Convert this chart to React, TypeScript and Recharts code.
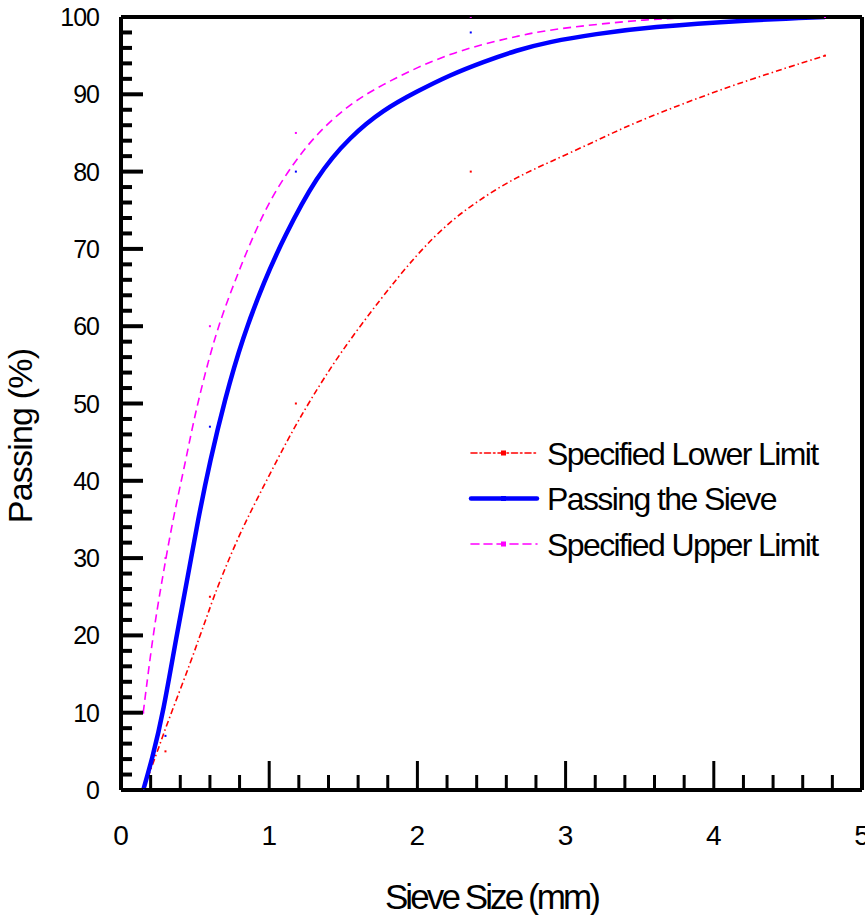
import {
  ComposedChart,
  Line,
  Scatter,
  XAxis,
  YAxis,
} from 'recharts';

// traced curves (sieve size in mm, percent passing)
const lowerX = [0.15, 0.24, 0.31, 0.39, 0.465, 0.53, 0.59, 0.645, 0.8, 0.96, 1.12, 1.275, 1.48, 1.75, 1.995, 2.22, 2.445, 2.67, 2.89, 3.23, 3.45, 3.86, 4.24, 4.75];
const lowerY = [0, 4.7, 8.5, 12.5, 16.3, 19.8, 23, 26, 33.2, 39.2, 45.2, 50.4, 56.6, 63.5, 69.3, 73.6, 76.7, 79.3, 81.2, 84.2, 86.2, 89.3, 91.9, 95];

const passX = [0.15, 0.21, 0.285, 0.375, 0.45, 0.52, 0.6, 0.7, 0.82, 0.97, 1.095, 1.32, 1.545, 1.77, 2.0, 2.22, 2.445, 2.67, 2.89, 3.2, 3.56, 4.24, 4.75];
const passY = [0, 4, 10, 20, 27.5, 35, 42.5, 50.5, 58.5, 66, 71.3, 79.5, 84.5, 88, 90.4, 92.5, 94.2, 95.7, 96.8, 97.8, 98.7, 99.6, 100];

const upperX = [0.15, 0.217, 0.28, 0.35, 0.43, 0.5, 0.59, 0.67, 0.77, 0.87, 1.0, 1.16, 1.32, 1.545, 1.77, 2.0, 2.22, 2.445, 2.67, 2.89, 3.57, 4.0, 4.75];
const upperY = [10, 20.3, 27.5, 35, 42, 48.7, 55.6, 60.8, 65.9, 70.7, 76.2, 81, 84.9, 88.8, 91.3, 93.5, 95.2, 96.5, 97.5, 98.4, 99.8, 100, 100];

// measured points at the sieve sizes
const sieveSizes = [0.15, 0.3, 0.6, 1.18, 2.36, 4.75];
const lowerPts = [0, 5, 25, 50, 80, 95];
const passPts = [0, 7, 47, 80, 98, 100];
const upperPts = [10, 30, 60, 85, 100, 100];

const xTicks = [0, 0.2, 0.4, 0.6, 0.8, 1, 1.2, 1.4, 1.6, 1.8, 2, 2.2, 2.4, 2.6, 2.8, 3, 3.2, 3.4, 3.6, 3.8, 4, 4.2, 4.4, 4.6, 4.8, 5];
const yTicks = [0, 2, 4, 6, 8, 10, 12, 14, 16, 18, 20, 22, 24, 26, 28, 30, 32, 34, 36, 38, 40, 42, 44, 46, 48, 50, 52, 54, 56, 58, 60, 62, 64, 66, 68, 70, 72, 74, 76, 78, 80, 82, 84, 86, 88, 90, 92, 94, 96, 98, 100];

const FONT = 'Liberation Sans, Arial, Helvetica, sans-serif';

const zip = (xs: number[], ys: number[]) => xs.map((x, i) => ({ x, y: ys[i] }));

const series = [
  { name: 'Specified Lower Limit', color: '#ff0000', width: 1.6, dash: '6 3 1.5 3', line: zip(lowerX, lowerY), pts: zip(sieveSizes, lowerPts) },
  { name: 'Passing the Sieve', color: '#0000ff', width: 4.5, dash: undefined, line: zip(passX, passY), pts: zip(sieveSizes, passPts) },
  { name: 'Specified Upper Limit', color: '#ff00ff', width: 1.6, dash: '8 5', line: zip(upperX, upperY), pts: zip(sieveSizes, upperPts) },
];

function XTick({ x, y, payload }: any) {
  const v = payload.value;
  const major = Math.abs(v - Math.round(v)) < 1e-6;
  return (
    <g>
      <line x1={x} x2={x} y1={y} y2={y - (major ? 29 : 15)} stroke='#000' strokeWidth={3} />
      {major && (
        <text x={x} y={y + 55} textAnchor='middle' fontSize={28} fontFamily={FONT} fill='#000'>
          {Math.round(v)}
        </text>
      )}
    </g>
  );
}

function YTick({ x, y, payload }: any) {
  const v = payload.value;
  const major = v % 10 === 0;
  return (
    <g>
      <line x1={x} x2={x + (major ? 22 : 11)} y1={y} y2={y} stroke='#000' strokeWidth={4} />
      {major && (
        <text x={x - 22} y={y + 9} textAnchor='end' fontSize={25} letterSpacing={-1} fontFamily={FONT} fill='#000'>
          {v}
        </text>
      )}
    </g>
  );
}

const square = (color: string) => (props: any) => (
  <rect x={props.cx - 1} y={props.cy - 1} width={2} height={2} fill={color} />
);

function LegendBox() {
  return (
    <svg width={400} height={140} style={{ position: 'absolute', left: 465, top: 425 }}>
      {series.map((s, i) => {
        const cy = 28 + i * 45.5;
        return (
          <g key={s.name}>
            <line x1={6} x2={72} y1={cy} y2={cy} stroke={s.color} strokeWidth={s.width} strokeDasharray={s.dash} strokeLinecap='round' />
            <rect x={36} y={cy - 2.5} width={5} height={5} fill={s.color} />
            <text x={82} y={cy + 11.5} fontSize={32} letterSpacing={-1.6} fontFamily={FONT} fill='#000'>
              {s.name}
            </text>
          </g>
        );
      })}
    </svg>
  );
}

export default function App() {
  return (
    <div style={{ position: 'absolute', left: 0, top: 0, width: 865, height: 915, background: '#fff' }}>
      <ComposedChart width={865} height={915} margin={{ top: 16, right: 2, bottom: 124, left: 120 }}>
        <XAxis
          xAxisId='bottom'
          type='number'
          dataKey='x'
          domain={[0, 5]}
          ticks={xTicks}
          interval={0}
          allowDataOverflow
          height={1}
          tickSize={0}
          tickMargin={0}
          tickLine={false}
          tick={<XTick />}
          axisLine={{ stroke: '#000', strokeWidth: 4 }}
          label={(p: any) => (
            <text
              x={p.viewBox.x + p.viewBox.width / 2}
              y={p.viewBox.y + 119}
              textAnchor='middle'
              fontSize={35}
              letterSpacing={-2.9}
              fontFamily={FONT}
              fill='#000'
            >
              Sieve Size (mm)
            </text>
          )}
        />
        <XAxis
          xAxisId='top'
          orientation='top'
          type='number'
          domain={[0, 5]}
          height={1}
          tick={false}
          tickLine={false}
          axisLine={{ stroke: '#000', strokeWidth: 4 }}
        />
        <YAxis
          yAxisId='left'
          type='number'
          domain={[0, 100]}
          ticks={yTicks}
          interval={0}
          allowDataOverflow
          width={1}
          tickSize={0}
          tickMargin={0}
          tickLine={false}
          tick={<YTick />}
          axisLine={{ stroke: '#000', strokeWidth: 4 }}
          label={() => (
            <text
              x={32}
              y={436}
              transform='rotate(-90, 32, 436)'
              textAnchor='middle'
              fontSize={34}
              letterSpacing={-0.8}
              fontFamily={FONT}
              fill='#000'
            >
              Passing (%)
            </text>
          )}
        />
        <YAxis
          yAxisId='right'
          orientation='right'
          type='number'
          domain={[0, 100]}
          width={1}
          tick={false}
          tickLine={false}
          axisLine={{ stroke: '#000', strokeWidth: 4 }}
        />
        {series.map((s) => (
          <Line
            key={s.name}
            xAxisId='bottom'
            yAxisId='left'
            data={s.line}
            dataKey='y'
            type='basis'
            stroke={s.color}
            strokeWidth={s.width}
            strokeDasharray={s.dash}
            dot={false}
            activeDot={false}
            isAnimationActive={false}
          />
        ))}
        {series.map((s) => (
          <Scatter
            key={s.name + '-pts'}
            xAxisId='bottom'
            yAxisId='left'
            data={s.pts}
            dataKey='y'
            fill={s.color}
            shape={square(s.color)}
            isAnimationActive={false}
          />
        ))}
      </ComposedChart>
      <LegendBox />
    </div>
  );
}
